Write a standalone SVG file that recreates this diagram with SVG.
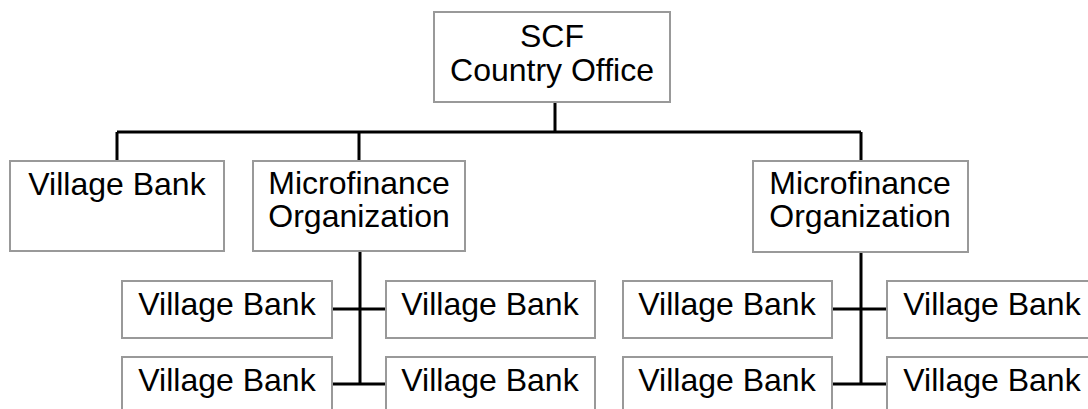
<svg xmlns="http://www.w3.org/2000/svg" width="1088" height="409" viewBox="0 0 1088 409">
<style>
.box{fill:#fff;stroke:#999;stroke-width:2}
.t{font-family:"Liberation Sans",Arial,sans-serif;font-size:32px;fill:#000;text-anchor:middle}
.c{stroke:#000;stroke-width:3;fill:none}
</style>
<rect width="1088" height="409" fill="#fff"/>
<g id="connectors">
<path class="c" d="M555 102V132M117 132H861M117 132V161M359 132V161M861 132V161"/>
<path class="c" d="M360 251V384M332 309H386M332 384H386"/>
<path class="c" d="M861 252V384M832 309H887M832 384H887"/>
</g>
<g id="scf"><rect class="box" x="434" y="12" width="236" height="90"/><text class="t" x="552" y="47">SCF</text><text class="t" x="552" y="81">Country Office</text></g>
<g id="vb-top"><rect class="box" x="10" y="161" width="214" height="90"/><text class="t" x="117" y="195">Village Bank</text></g>
<g id="mfo1"><rect class="box" x="253" y="161" width="212" height="90"/><text class="t" x="359" y="194">Microfinance</text><text class="t" x="359" y="227">Organization</text></g>
<g id="mfo2"><rect class="box" x="753" y="161" width="215" height="91"/><text class="t" x="860" y="194">Microfinance</text><text class="t" x="860" y="227">Organization</text></g>
<g id="vb1"><rect class="box" x="122" y="281" width="210" height="57"/><text class="t" x="227" y="315">Village Bank</text></g>
<g id="vb2"><rect class="box" x="386" y="281" width="209" height="57"/><text class="t" x="490" y="315">Village Bank</text></g>
<g id="vb3"><rect class="box" x="122" y="357" width="210" height="70"/><text class="t" x="227" y="391">Village Bank</text></g>
<g id="vb4"><rect class="box" x="386" y="357" width="209" height="70"/><text class="t" x="490" y="391">Village Bank</text></g>
<g id="vb5"><rect class="box" x="623" y="281" width="209" height="57"/><text class="t" x="727" y="315">Village Bank</text></g>
<g id="vb6"><rect class="box" x="887" y="281" width="210" height="57"/><text class="t" x="992" y="315">Village Bank</text></g>
<g id="vb7"><rect class="box" x="623" y="357" width="209" height="70"/><text class="t" x="727" y="391">Village Bank</text></g>
<g id="vb8"><rect class="box" x="887" y="357" width="210" height="70"/><text class="t" x="992" y="391">Village Bank</text></g>
</svg>
